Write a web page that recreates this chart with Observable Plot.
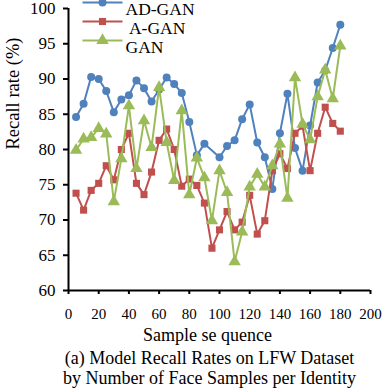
<!DOCTYPE html>
<html><head><meta charset="utf-8">
<script src="https://cdn.jsdelivr.net/npm/d3@7"></script>
<script src="https://cdn.jsdelivr.net/npm/@observablehq/plot@0.6"></script>
<style>body{margin:0;background:#fff;}</style>
</head><body><div id="chart"></div>
<script>
const sampleX = [5,10,15,20,25,30,35,40,45,50,55,60,65,70,75,80,85,90,95,100,105,110,115,120,125,130,135,140,145,150,155,160,165,170,175,180];
const adGan = [84.6,86.5,90.3,90.0,88.3,85.3,87.1,87.7,89.8,88.7,86.8,88.5,90.2,89.3,88.0,83.9,79.2,80.8,null,78.9,80.5,81.3,84.3,86.4,81.0,78.9,74.4,82.3,87.9,80.2,77.0,83.4,89.5,91.2,94.4,97.7];
const aGan = [73.8,71.4,74.2,75.2,77.7,75.7,80.0,82.3,75.2,73.6,76.8,81.3,82.9,80.0,74.8,75.8,74.9,72.4,66.0,68.6,71.2,68.6,69.7,73.5,68.0,69.9,77.0,79.4,77.3,82.3,83.3,77.0,82.3,86.0,83.7,82.6];
const gan = [79.9,81.5,81.7,83.0,82.2,72.6,78.7,86.2,77.3,84.1,80.3,88.8,81.0,75.6,85.5,73.6,78.8,76.0,69.9,77.0,73.9,64.1,68.3,74.7,76.5,74.7,77.7,80.8,73.1,90.2,83.6,81.4,87.5,91.3,87.2,94.7];
const seriesNames = ["AD-GAN", "A-GAN", "GAN"];
const legendLabels = ["AD-GAN", " A-GAN", "GAN"];
const seriesColors = ["#4F81BD", "#C0504D", "#9BBB59"];
const xTicks = [0,20,40,60,80,100,120,140,160,180,200];
const yTicks = [60,65,70,75,80,85,90,95,100];
const xLabel = "Sample se quence";
const yLabel = "Recall rate (%)";
const captionLines = ["(a) Model Recall Rates on LFW Dataset", "by Number of Face Samples per Identity"];

const symbols = [d3.symbolCircle, d3.symbolSquare, d3.symbolTriangle];
const radii = [4, 4, 4.6];
const allSeries = [adGan, aGan, gan];
const lineSym = {draw(ctx, size) { ctx.moveTo(-20, 0); ctx.lineTo(20, 0); }};

const seriesMarks = allSeries.flatMap((vals, i) => {
  const rows = [];
  vals.forEach((v, j) => { if (v != null) rows.push({x: sampleX[j], y: v}); });
  return [
    Plot.line(rows, {x: "x", y: "y", stroke: seriesColors[i], strokeWidth: 2}),
    Plot.dot(rows, {x: "x", y: "y", fill: seriesColors[i], symbol: symbols[i], r: radii[i]})
  ];
});

const legendMarks = seriesNames.flatMap((name, i) => [
  Plot.dot([name], {frameAnchor: "top-left", dx: 34, dy: -6 + i * 19, symbol: lineSym, fill: "none", stroke: seriesColors[i], strokeWidth: 2}),
  Plot.dot([name], {frameAnchor: "top-left", dx: 34, dy: -6 + i * 19, symbol: symbols[i], fill: seriesColors[i], r: radii[i]}),
  Plot.text([legendLabels[i]], {frameAnchor: "top-left", dx: 57, dy: -6 + i * 19, textAnchor: "start", fontSize: 17.5, fill: "black"})
]);

const captionMarks = captionLines.map((line, i) =>
  Plot.text([line], {frameAnchor: "bottom", dx: -10, dy: 73 + i * 20, fontSize: 18, fill: "black"})
);

const chart = Plot.plot({
  width: 384,
  height: 389,
  marginTop: 8,
  marginLeft: 68,
  marginRight: 14,
  marginBottom: 99,
  style: {fontFamily: "'Liberation Serif', 'Times New Roman', serif", color: "black", background: "white"},
  x: {domain: [0, 200]},
  y: {domain: [60, 100]},
  marks: [
    ...seriesMarks,
    Plot.axisX({ticks: xTicks, tickSize: 4, tickPadding: 14, fontSize: 15, strokeWidth: 2, label: null}),
    Plot.axisY({ticks: yTicks, tickSize: 5, tickPadding: 8, fontSize: 17, strokeWidth: 2, label: null}),
    Plot.ruleX([0], {strokeWidth: 2}),
    Plot.ruleY([60], {strokeWidth: 2}),
    ...legendMarks,
    Plot.text([yLabel], {frameAnchor: "left", dx: -55, rotate: -90, fontSize: 18.5, fill: "black"}),
    Plot.text([xLabel], {frameAnchor: "bottom", dx: -12, dy: 50, fontSize: 18, fill: "black"}),
    ...captionMarks
  ]
});
document.getElementById("chart").appendChild(chart);
</script>
</body></html>
